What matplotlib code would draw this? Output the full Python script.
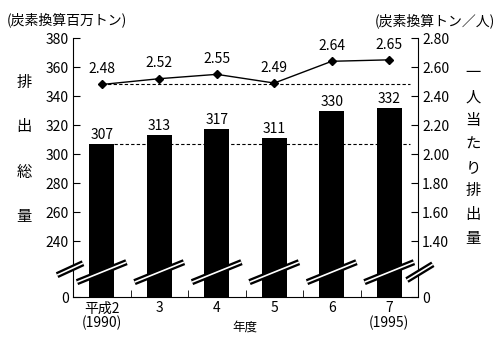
import numpy as np
import matplotlib
matplotlib.use("Agg")
import matplotlib.pyplot as plt
from matplotlib import transforms

plt.rcParams['font.family'] = ['Noto Sans CJK JP', 'DejaVu Sans']
plt.rcParams['font.size'] = 10

# データ
years = ["平成2\n(1990)", "3", "4", "5", "6", "7\n(1995)"]
total = [307, 313, 317, 311, 330, 332]                 # 排出総量 (炭素換算百万トン)
per_capita = [2.48, 2.52, 2.55, 2.49, 2.64, 2.65]      # 一人当たり排出量 (炭素換算トン/人)
left_ticks = [0, 240, 260, 280, 300, 320, 340, 360, 380]
right_ticks = [0, 1.40, 1.60, 1.80, 2.00, 2.20, 2.40, 2.60, 2.80]


def BreakScale(cut, gap):
    """cut より下の範囲を gap の幅に圧縮する (省略線つきの軸)"""
    def forward(v):
        v = np.asarray(v, dtype=float)
        return np.where(v >= cut, v, cut - gap + v * gap / cut)

    def inverse(s):
        s = np.asarray(s, dtype=float)
        return np.where(s >= cut, s, (s - cut + gap) * cut / gap)
    return forward, inverse


fig = plt.figure(figsize=(5, 3.4), dpi=100)
ax = fig.add_axes([0.146, 0.126, 0.69, 0.762])
x = np.arange(len(years))

ax.bar(x, total, width=0.44, color='black', zorder=2)
ax.set_xlim(-0.5, len(years) - 0.5)
ax.set_yscale('function', functions=BreakScale(240, 38.6))
ax.set_ylim(0, 380)
ax.set_yticks(left_ticks)
ax.set_yticklabels([str(t) for t in left_ticks])
ax.set_xticks(x)
ax.set_xticklabels(years, linespacing=1.0)
ax.set_xticks(x[:-1] + 0.5, minor=True)
ax.tick_params(axis='x', which='major', length=0, pad=3)
ax.tick_params(axis='x', which='minor', direction='in', length=5)
ax.tick_params(axis='y', direction='in', length=5, pad=3)
ax.spines['top'].set_visible(False)
ax.spines['right'].set_visible(False)

for xi, v in zip(x, total):
    ax.annotate(str(v), (xi, v), xytext=(0, 1.5), textcoords='offset points',
                ha='center', va='bottom')
ax.hlines(total[0], x[0] + 0.22, len(years) - 0.64, colors='black',
          linestyles=(0, (3, 2)), lw=0.8, zorder=1)

ax2 = ax.twinx()
ax2.set_yscale('function', functions=BreakScale(1.4, 0.386))
ax2.set_ylim(0, 2.8)
ax2.set_yticks(right_ticks)
ax2.set_yticklabels(["0" if t == 0 else f"{t:.2f}" for t in right_ticks])
ax2.tick_params(axis='y', direction='in', length=5, pad=3)
for s in ['top', 'left', 'bottom']:
    ax2.spines[s].set_visible(False)

ax2.plot(x, per_capita, color='black', marker='D', ms=4, lw=1)
for xi, v in zip(x, per_capita):
    ax2.annotate(f"{v:.2f}", (xi, v), xytext=(0, 6), textcoords='offset points',
                 ha='center', va='bottom')
ax2.hlines(per_capita[0], x[0], len(years) - 0.64, colors='black',
           linestyles=(0, (3, 2)), lw=0.8)

# 省略線
blend = transforms.blended_transform_factory(ax.transData, ax.transAxes)
marks = [([xi - 0.43, xi + 0.43], [0.058, 0.135], blend) for xi in x]
marks.append(([-0.046, 0.029], [0.085, 0.131], ax.transAxes))
marks.append(([0.968, 1.043], [0.066, 0.127], ax.transAxes))
for mx, my, tr in marks:
    ax2.plot(mx, my, transform=tr, color='black', lw=4.5,
             solid_capstyle='butt', clip_on=False, zorder=5)
    ax2.plot(mx, my, transform=tr, color='white', lw=1.2,
             solid_capstyle='butt', clip_on=False, zorder=6)

# 軸ラベル (縦書き)
for i, ch in enumerate("排出総量"):
    fig.text(24 / 500, 1 - (82 + 45 * i) / 340, ch, ha='center', va='center', fontsize=11)
for i, ch in enumerate("一人当たり排出量"):
    fig.text(473 / 500, 1 - (73 + 23.6 * i) / 340, ch, ha='center', va='center', fontsize=11)

fig.text(7 / 500, 1 - 20 / 340, "(炭素換算百万トン)", ha='left', va='center')
fig.text(495 / 500, 1 - 21 / 340, "(炭素換算トン／人)", ha='right', va='center')
fig.text(245 / 500, 1 - 327 / 340, "年度", ha='center', va='center', fontsize=9)

fig.savefig("out.png", dpi=100)
